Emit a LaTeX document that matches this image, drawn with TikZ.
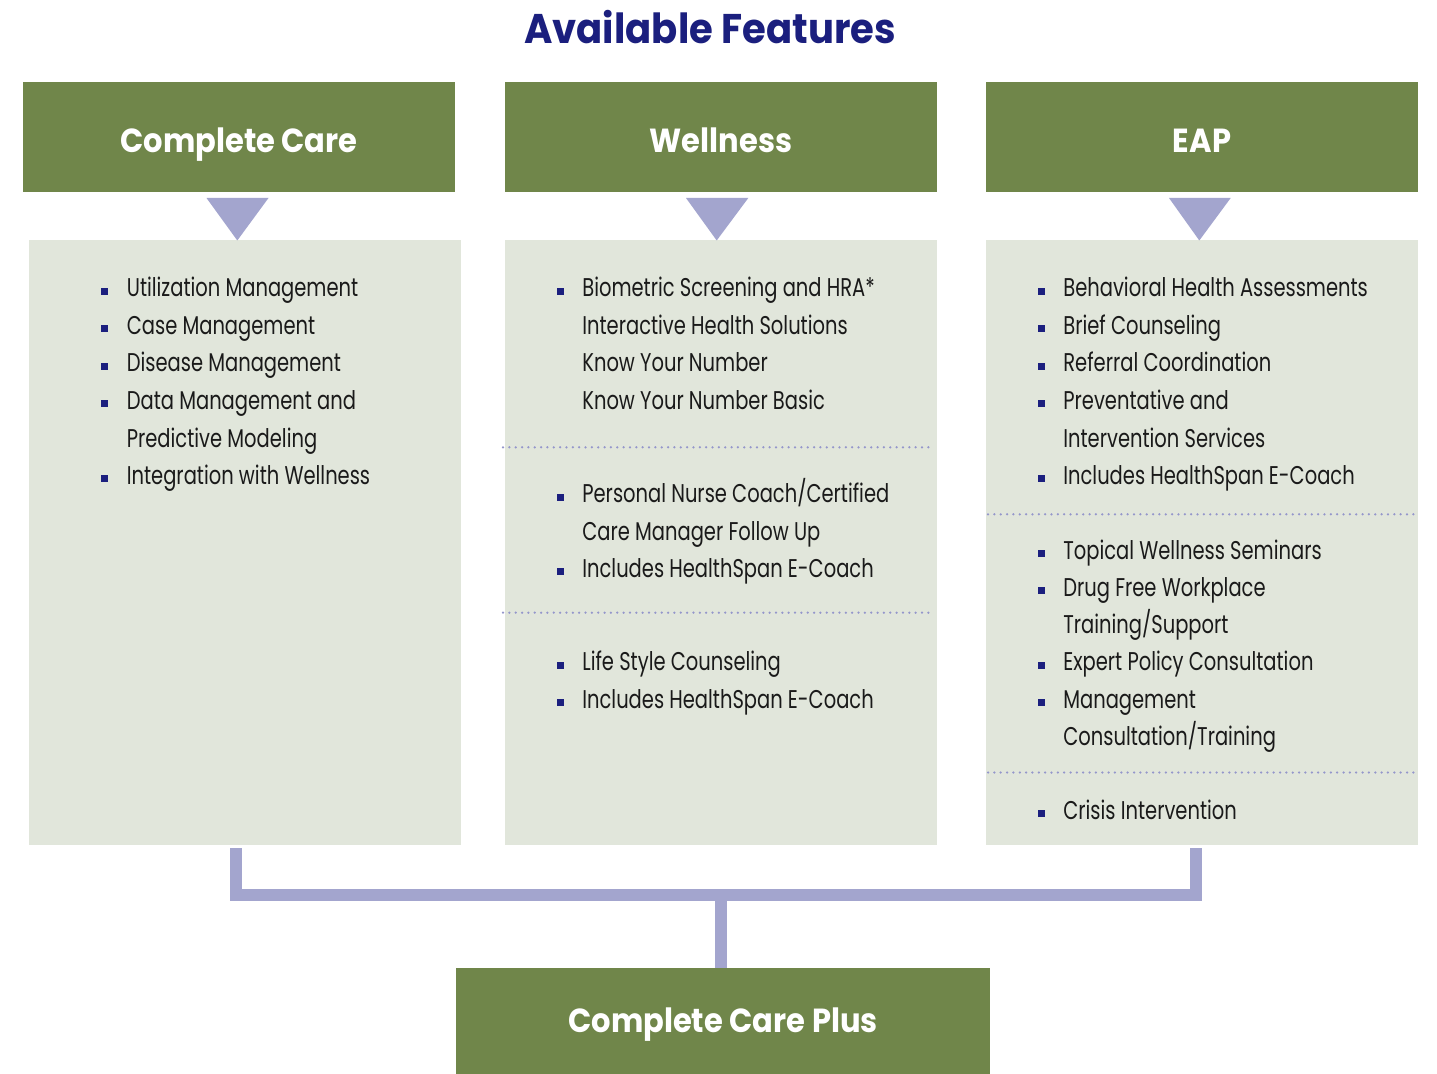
\documentclass[tikz,border=0pt]{standalone}
\usepackage{fontspec}
\setmainfont{Poppins}
\newfontfamily\bodyfont[FakeStretch=0.76]{Poppins}
\newfontfamily\headfont[FakeStretch=0.915]{Poppins}
\newfontfamily\titlefont[FakeStretch=0.93]{Poppins}
\definecolor{hdrgreen}{HTML}{70864A}
\definecolor{lightbox}{HTML}{E1E6DB}
\definecolor{lav}{HTML}{A3A5CE}
\definecolor{dotlav}{HTML}{9496CB}
\definecolor{navy}{HTML}{1B1F7E}
\definecolor{bodyink}{HTML}{1A1A1A}
\tikzset{
  hdrbox/.style={fill=hdrgreen, draw=none, inner sep=0pt, minimum width=8.64cm, minimum height=2.2cm,
    text=white, font=\headfont\bfseries\fontsize{19pt}{19pt}\selectfont, text height=0.64cm, text depth=0pt},
  bodybox/.style={fill=lightbox, draw=none, inner sep=0pt, minimum width=8.64cm, minimum height=12.1cm},
  tri/.style={fill=lav, draw=none},
  conn/.style={draw=lav, line width=0.24cm, line join=miter, line cap=butt},
  sep/.style={draw=dotlav, line width=0.05cm, line cap=round, dash pattern=on 0pt off 0.127cm},
  itemtext/.style={anchor=base west, inner sep=0pt, text=bodyink, font=\bodyfont\fontsize{14.6pt}{14.6pt}\selectfont},
  bul/.style={fill=navy, draw=none}
}
\begin{document}
\begin{tikzpicture}[x=0.02cm, y=-0.02cm]
\useasboundingbox (0,0) rectangle (1437,1074);
\fill[white] (0,0) rectangle (1437,1074);

% title
\node[anchor=base, inner sep=0pt, text=navy, font=\titlefont\bfseries\fontsize{23.6pt}{23.6pt}\selectfont] (title) at (710,44) {Available Features};

% header boxes
\node[hdrbox] (cch) at (239,137) {Complete Care};
\node[hdrbox] (wh)  at (721,137) {Wellness};
\node[hdrbox] (eh)  at (1202,137) {EAP};

% body boxes
\node[bodybox] (ccb) at (245,542.5) {};
\node[bodybox] (wb)  at (721,542.5) {};
\node[bodybox] (eb)  at (1202,542.5) {};

% triangles
\fill[tri] (206.5,198) -- (268.5,198) -- (237.3,240.5) -- cycle;
\fill[tri] (686,198) -- (748.3,198) -- (716.7,240.5) -- cycle;
\fill[tri] (1169,198) -- (1230.7,198) -- (1199.3,240.5) -- cycle;

% separators
\draw[sep] (503,447.3) -- (931,447.3);
\draw[sep] (503,612.7) -- (931,612.7);
\draw[sep] (988,514.3) -- (1416,514.3);
\draw[sep] (988,772.5) -- (1416,772.5);

% Complete Care items
\foreach \y/\b/\t [count=\i] in {297/1/Utilization Management, 334.5/1/Case Management, 372/1/Disease Management,
  409.5/1/Data Management and, 447/0/Predictive Modeling, 484/1/Integration with Wellness}{
  \node[itemtext] (cc\i) at (126.5,\y) {\t};
  \ifnum\b=1 \fill[bul] (101,\y-9) rectangle (108,\y-2); \fi
}
% Wellness items
\foreach \y/\b/\t [count=\i] in {297/1/Biometric Screening and HRA*, 334.5/0/Interactive Health Solutions,
  372/0/Know Your Number, 409.5/0/Know Your Number Basic, 502.5/1/Personal Nurse Coach{/}Certified,
  540/0/Care Manager Follow Up, 577/1/Includes HealthSpan E-Coach, 670.5/1/Life Style Counseling,
  708/1/Includes HealthSpan E-Coach}{
  \node[itemtext] (w\i) at (582,\y) {\t};
  \ifnum\b=1 \fill[bul] (556.5,\y-9) rectangle (563.5,\y-2); \fi
}
% EAP items
\foreach \y/\b/\t [count=\i] in {297/1/Behavioral Health Assessments, 334.5/1/Brief Counseling,
  372/1/Referral Coordination, 409.5/1/Preventative and, 447/0/Intervention Services,
  484/1/Includes HealthSpan E-Coach, 559/1/Topical Wellness Seminars, 596/1/Drug Free Workplace,
  633/0/Training{/}Support, 670.5/1/Expert Policy Consultation, 708/1/Management,
  745/0/Consultation{/}Training, 819/1/Crisis Intervention}{
  \node[itemtext] (e\i) at (1063,\y) {\t};
  \ifnum\b=1 \fill[bul] (1037.5,\y-9) rectangle (1044.5,\y-2); \fi
}

% bottom box
\node[hdrbox, minimum width=10.68cm, minimum height=2.12cm, text height=0.44cm] (ccp) at (723,1021) {Complete Care Plus};

% connectors
\coordinate (cl) at (236,848);
\coordinate (cr) at (1196,848);
\coordinate (jn) at (721,895);
\draw[conn] (cl) |- (jn) -| (cr);
\draw[conn] (jn) -- (jn |- ccp.north);
\end{tikzpicture}
\end{document}
